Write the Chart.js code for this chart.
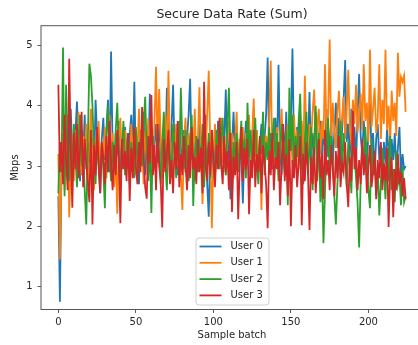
<!DOCTYPE html>
<html>
<head>
<meta charset="utf-8">
<title>Secure Data Rate (Sum)</title>
<script src="https://cdn.jsdelivr.net/npm/chart.js@4.4.1/dist/chart.umd.min.js"></script>
<style>
  html, body { margin: 0; padding: 0; background: #fff; overflow: hidden; }
  #wrap { width: 418px; height: 345px; overflow: hidden; }
</style>
</head>
<body>
<div id="wrap"><canvas id="chart" width="423" height="345"></canvas></div>
<script>
const seriesLabels = ["User 0", "User 1", "User 2", "User 3"];
const seriesColors = ["#1f77b4", "#ff7f0e", "#2ca02c", "#d62728"];
const xTicks = [0, 50, 100, 150, 200];
const yTicks = [1, 2, 3, 4, 5];

// values, one per sample batch (0..224)
const user0 = [
  2.50, 0.75, 2.95, 3.40, 3.10, 3.65, 2.80, 3.30, 3.95, 3.20, 2.90, 3.55, 4.07, 3.35, 2.75,
  3.60, 3.15, 3.85, 2.95, 3.40, 3.05, 3.70, 3.25, 2.85, 4.10, 3.50, 3.00, 2.55, 3.45, 3.80,
  3.10, 3.60, 4.10, 2.90, 4.90, 3.30, 2.70, 3.55, 3.20, 3.75, 2.85, 3.40, 3.05, 3.65, 3.25,
  2.95, 3.50, 3.85, 3.15, 4.40, 3.00, 3.45, 2.70, 3.60, 3.30, 3.90, 2.85, 3.40, 3.10, 4.20,
  3.55, 2.90, 3.35, 3.70, 3.05, 3.80, 3.25, 2.80, 3.60, 3.15, 4.30, 3.40, 2.95, 3.65, 4.35,
  3.20, 3.50, 2.85, 3.75, 3.30, 3.05, 3.60, 2.90, 3.45, 3.85, 4.45, 3.10, 3.55, 2.75, 3.40,
  3.20, 3.70, 2.95, 3.50, 3.15, 3.85, 2.70, 2.16, 3.35, 3.60, 2.90, 3.45, 3.10, 3.75, 3.25,
  3.00, 3.65, 3.40, 4.27, 3.05, 3.55, 2.45, 3.35, 3.90, 3.15, 3.60, 2.95, 3.45, 3.20, 2.38,
  3.30, 3.75, 3.05, 3.50, 2.85, 3.40, 3.95, 3.15, 3.60, 2.90, 3.35, 3.70, 3.10, 3.45, 3.85,
  4.80, 3.25, 3.55, 2.95, 3.40, 3.80, 3.10, 4.68, 3.30, 2.85, 3.60, 3.20, 3.90, 3.05, 3.50,
  3.75, 4.95, 3.30, 3.00, 3.65, 3.25, 3.85, 2.95, 3.45, 3.15, 3.70, 3.35, 4.23, 3.05, 3.55,
  3.20, 3.90, 2.90, 3.50, 3.75, 3.10, 3.60, 3.30, 3.95, 3.15, 3.45, 3.70, 3.05, 3.55, 4.05,
  3.30, 3.80, 3.00, 3.60, 4.10, 4.76, 3.40, 3.70, 3.15, 3.95, 3.35, 3.65, 3.05, 3.85, 4.53,
  3.50, 3.20, 3.75, 3.40, 2.95, 3.60, 4.05, 3.25, 3.55, 2.85, 3.45, 3.70, 3.10, 3.35, 2.75,
  3.40, 3.05, 3.60, 3.25, 2.80, 3.45, 3.10, 3.55, 2.90, 3.30, 3.65, 2.85, 3.20, 2.95, 3.00
];
const user1 = [
  3.20, 1.45, 2.90, 3.55, 2.60, 3.30, 3.85, 2.15, 3.10, 3.45, 2.75, 3.60, 3.00, 3.90, 3.25,
  2.85, 3.50, 3.15, 3.70, 2.70, 3.35, 3.95, 3.05, 2.60, 3.45, 3.20, 3.75, 2.90, 3.40, 3.10,
  3.65, 2.80, 3.30, 3.85, 3.00, 3.55, 2.65, 3.20, 2.21, 3.45, 3.80, 2.95, 3.35, 3.60, 3.05,
  3.40, 2.75, 3.70, 3.15, 3.50, 2.85, 3.25, 3.95, 3.00, 3.45, 2.70, 3.60, 3.20, 3.80, 3.10,
  3.35, 2.90, 3.75, 4.65, 3.20, 4.28, 3.50, 2.80, 3.40, 3.85, 3.05, 4.58, 3.30, 2.95, 3.60,
  3.25, 3.70, 3.00, 3.50, 2.85, 2.27, 3.40, 3.80, 3.15, 3.55, 2.90, 3.65, 3.20, 3.95, 3.05,
  3.45, 4.31, 3.10, 2.37, 3.60, 3.25, 3.85, 4.58, 3.30, 1.97, 3.15, 3.70, 2.95, 3.45, 3.20,
  3.80, 3.05, 3.50, 2.85, 3.40, 3.75, 3.10, 3.55, 2.80, 3.35, 3.90, 3.00, 3.45, 3.20, 3.65,
  2.95, 3.55, 3.25, 3.85, 3.05, 3.40, 4.12, 3.15, 3.60, 2.90, 3.35, 2.27, 3.70, 3.10, 3.50,
  3.25, 3.80, 4.75, 3.00, 3.45, 3.20, 3.65, 2.85, 3.50, 3.95, 3.15, 3.40, 2.90, 3.70, 3.30,
  3.55, 3.05, 3.85, 3.25, 3.60, 2.95, 3.45, 3.75, 3.15, 4.50, 3.35, 3.05, 3.70, 3.40, 3.90,
  4.27, 3.30, 3.65, 3.95, 3.20, 3.75, 3.45, 4.69, 3.55, 3.85, 5.10, 3.40, 4.05, 3.60, 3.30,
  3.90, 4.25, 3.50, 3.80, 4.15, 3.45, 3.95, 4.60, 3.65, 3.35, 4.10, 3.70, 4.35, 3.55, 3.85,
  4.20, 3.60, 4.69, 3.75, 4.05, 3.40, 4.93, 3.65, 3.95, 4.30, 3.55, 3.80, 4.69, 3.45, 4.10,
  3.70, 4.93, 3.60, 4.00, 3.35, 4.25, 3.75, 4.05, 3.50, 4.88, 4.15, 4.48, 4.40, 4.50, 3.90
];
const user2 = [
  2.55, 3.40, 2.90, 4.97, 2.50, 4.35, 3.10, 2.75, 3.55, 2.95, 3.70, 3.20, 2.65, 3.45, 3.85,
  3.00, 3.30, 2.60, 2.03, 3.40, 4.70, 4.50, 4.00, 3.20, 2.70, 3.55, 3.05, 2.80, 3.35, 2.95,
  2.30, 3.50, 4.00, 3.15, 2.75, 3.40, 2.90, 3.60, 4.05, 3.10, 2.65, 3.30, 3.75, 2.85, 3.20,
  3.55, 2.70, 3.40, 3.05, 2.80, 3.65, 3.15, 2.90, 3.45, 3.00, 3.70, 4.15, 3.25, 2.75, 3.40,
  2.22, 3.50, 3.10, 2.85, 3.60, 3.20, 2.70, 3.35, 3.90, 3.05, 2.60, 3.45, 3.15, 2.90, 3.70,
  3.25, 2.80, 3.55, 3.00, 4.30, 3.35, 2.95, 3.60, 3.10, 2.75, 3.45, 3.85, 2.34, 3.20, 3.50,
  2.90, 3.35, 3.05, 3.70, 2.65, 3.30, 3.00, 3.55, 2.80, 3.40, 3.15, 2.70, 3.60, 3.25, 2.95,
  3.45, 3.80, 3.10, 2.85, 3.65, 4.30, 3.20, 2.75, 3.40, 3.05, 3.55, 2.90, 3.30, 3.75, 3.00,
  3.45, 2.80, 4.05, 3.15, 3.60, 2.95, 3.35, 3.80, 3.05, 2.70, 3.50, 3.20, 3.90, 2.85, 3.40,
  3.10, 3.65, 2.95, 3.45, 3.80, 3.00, 3.55, 2.75, 3.35, 3.70, 3.15, 2.90, 3.60, 2.35, 4.30,
  3.25, 3.85, 2.95, 3.50, 3.15, 3.75, 4.20, 3.05, 2.70, 3.45, 3.90, 2.85, 3.30, 3.65, 2.60,
  3.40, 4.00, 2.75, 3.55, 2.40, 2.95, 1.72, 2.60, 3.35, 3.80, 2.85, 3.50, 3.10, 2.50, 2.03,
  2.70, 3.30, 3.75, 2.90, 3.55, 3.15, 2.65, 3.40, 3.00, 2.55, 3.60, 3.20, 2.80, 2.40, 1.65,
  2.75, 3.35, 2.95, 3.65, 3.10, 2.60, 2.30, 3.45, 2.85, 3.20, 2.50, 3.00, 2.18, 2.70, 3.30,
  2.90, 2.45, 3.15, 2.75, 3.50, 2.60, 2.95, 2.40, 3.25, 2.70, 2.85, 2.35, 3.00, 2.40, 2.50
];
const user3 = [
  4.35, 2.90, 3.40, 2.70, 3.85, 3.10, 2.60, 4.78, 3.25, 2.31, 3.55, 2.95, 3.70, 2.80, 3.30,
  3.90, 2.65, 3.45, 3.05, 2.75, 2.40, 3.60, 2.03, 3.35, 2.85, 3.65, 3.00, 2.55, 3.40, 3.15,
  2.70, 3.50, 2.90, 3.75, 3.05, 2.60, 3.35, 2.85, 3.60, 3.10, 2.05, 3.45, 2.95, 3.25, 2.75,
  3.55, 2.42, 3.30, 2.80, 3.65, 3.00, 2.70, 3.40, 2.90, 3.98, 3.15, 2.65, 2.46, 3.50, 3.05,
  4.18, 2.85, 3.35, 2.60, 3.70, 3.00, 2.75, 1.98, 3.45, 2.90, 3.25, 3.60, 2.70, 3.10, 2.55,
  3.40, 2.95, 3.75, 2.65, 3.20, 2.85, 3.50, 3.05, 2.60, 3.35, 2.80, 3.65, 2.95, 3.15, 2.70,
  3.45, 2.90, 3.30, 2.55, 4.40, 3.00, 2.75, 3.40, 2.85, 3.60, 3.10, 2.65, 3.35, 2.95, 3.80,
  3.05, 2.70, 3.50, 2.90, 3.25, 2.60, 3.55, 2.24, 3.15, 2.85, 3.40, 2.12, 3.00, 3.65, 2.75,
  3.30, 2.95, 3.45, 2.20, 3.10, 2.80, 3.60, 2.65, 3.20, 2.90, 3.50, 2.55, 3.35, 3.05, 2.70,
  1.97, 3.25, 2.85, 3.55, 2.60, 3.15, 2.95, 3.40, 2.35, 3.00, 3.70, 2.75, 3.20, 2.50, 3.45,
  2.00, 3.10, 2.80, 3.35, 2.65, 3.05, 3.50, 2.02, 3.20, 2.75, 3.40, 2.90, 1.94, 3.15, 2.70,
  3.30, 2.55, 3.00, 3.45, 2.80, 3.20, 2.45, 3.60, 2.85, 3.10, 2.60, 3.35, 2.95, 2.50, 3.25,
  2.80, 3.50, 2.65, 3.05, 2.90, 3.40, 2.70, 2.32, 3.15, 2.75, 3.92, 2.95, 3.30, 2.60, 3.10,
  2.70, 3.45, 2.85, 3.20, 2.55, 3.00, 3.35, 2.65, 2.90, 3.25, 2.45, 3.10, 2.80, 3.40, 2.60,
  3.05, 2.75, 3.30, 1.99, 2.85, 3.15, 2.15, 2.95, 2.60, 3.20, 2.70, 2.90, 2.50, 2.80, 2.45
];
const allSeries = [user0, user1, user2, user3];

const textColor = "#262626";
const axisFont = { family: "DejaVu Sans", size: 10 };

// matplotlib draws a box round the axes, Chart.js only the left/bottom lines
const framePlugin = {
  id: "frame",
  afterDatasetsDraw(chart) {
    const { ctx, chartArea: a } = chart;
    ctx.save();
    ctx.strokeStyle = "#555";
    ctx.lineWidth = 1;
    ctx.strokeRect(a.left, a.top, a.right - a.left, a.bottom - a.top);
    ctx.restore();
  },
};

// legend box at "lower center" inside the plot
const boxLegendPlugin = {
  id: "boxLegend",
  afterDraw(chart) {
    const { ctx, chartArea: a } = chart;
    const sets = chart.data.datasets;
    const w = 73, h = 67, rowGap = 16.3;
    const left = (a.left + a.right) / 2 - w / 2;
    const top = a.bottom - 5 - h;
    ctx.save();
    ctx.beginPath();
    ctx.roundRect(left + 0.5, top + 0.5, w, h, 3);
    ctx.fillStyle = "rgba(255,255,255,0.8)";
    ctx.fill();
    ctx.strokeStyle = "#d0d0d0";
    ctx.lineWidth = 1;
    ctx.stroke();
    ctx.font = "10px 'DejaVu Sans'";
    ctx.textBaseline = "middle";
    sets.forEach((ds, i) => {
      const y = top + 9 + i * rowGap;
      ctx.strokeStyle = ds.borderColor;
      ctx.lineWidth = 1.8;
      ctx.beginPath();
      ctx.moveTo(left + 4, y);
      ctx.lineTo(left + 26, y);
      ctx.stroke();
      ctx.fillStyle = textColor;
      ctx.fillText(ds.label, left + 35, y);
    });
    ctx.restore();
  },
};

new Chart(document.getElementById("chart"), {
  type: "line",
  data: {
    datasets: allSeries.map((values, i) => ({
      label: seriesLabels[i],
      data: values.map((v, x) => ({ x: x, y: v })),
      borderColor: seriesColors[i],
      backgroundColor: seriesColors[i],
      borderWidth: 1.8,
      pointRadius: 0,
      tension: 0,
      // later series on top, as in the original
      order: allSeries.length - i,
    })),
  },
  options: {
    responsive: false,
    animation: false,
    layout: { padding: 0 },
    plugins: {
      legend: { display: false },
      tooltip: { enabled: false },
      title: {
        display: true,
        text: "Secure Data Rate (Sum)",
        fullSize: false,
        color: textColor,
        font: { family: "DejaVu Sans", size: 12.5, weight: "normal" },
        padding: { top: 7.5, bottom: 3.2 },
      },
    },
    scales: {
      x: {
        type: "linear",
        min: -11.2,
        max: 235.2,
        afterBuildTicks: (scale) => { scale.ticks = xTicks.map((v) => ({ value: v })); },
        afterFit: (scale) => { scale.height = 35.5; },
        grid: { drawOnChartArea: false, tickLength: 3.5, tickWidth: 0.8, tickColor: "#333" },
        border: { display: false },
        ticks: { color: textColor, font: axisFont, padding: 3, maxRotation: 0, autoSkip: false },
        title: { display: true, text: "Sample batch", color: textColor, font: axisFont, padding: { top: 0, bottom: 4 } },
      },
      y: {
        min: 0.62,
        max: 5.33,
        afterBuildTicks: (scale) => { scale.ticks = yTicks.map((v) => ({ value: v })); },
        afterFit: (scale) => { scale.width = 41; },
        grid: { drawOnChartArea: false, tickLength: 3.5, tickWidth: 0.8, tickColor: "#333" },
        border: { display: false },
        ticks: { color: textColor, font: axisFont, padding: 5 },
        title: { display: true, text: "Mbps", color: textColor, font: axisFont, padding: { top: 9, bottom: 0 } },
      },
    },
  },
  plugins: [framePlugin, boxLegendPlugin],
});
</script>
</body>
</html>
